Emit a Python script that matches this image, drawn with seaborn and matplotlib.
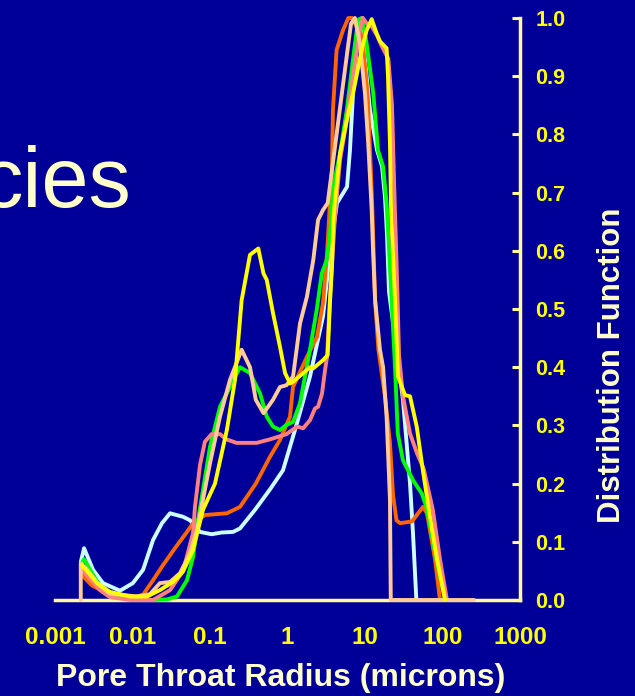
import numpy as np
import pandas as pd
import matplotlib
matplotlib.use("Agg")
import matplotlib.pyplot as plt
import seaborn as sns

# ---------------- data (x: pore throat radius in microns, y: distribution) --------
x_ticks = [0.001, 0.01, 0.1, 1, 10, 100, 1000]
x_tick_labels = ["0.001", "0.01", "0.1", "1", "10", "100", "1000"]
y_ticks = [0.0, 0.1, 0.2, 0.3, 0.4, 0.5, 0.6, 0.7, 0.8, 0.9, 1.0]
y_tick_labels = ["0.0", "0.1", "0.2", "0.3", "0.4", "0.5", "0.6", "0.7", "0.8", "0.9", "1.0"]

cyan_x = [0.00215, 0.00237, 0.00309, 0.00416, 0.0069, 0.0101, 0.0137, 0.0184, 0.024, 0.0305,
          0.0449, 0.0552, 0.0743, 0.105, 0.142, 0.198, 0.244, 0.381, 0.594, 0.875, 1.327, 1.95,
          2.87, 3.53, 4.35, 5.86, 6.4, 7.0, 7.88, 8.61, 9.14, 10.0, 11.6, 14.3, 16.6, 18.1, 19.2,
          20.4, 30.9, 38.1, 41.6, 46.0]
cyan_y = [0.065, 0.089, 0.052, 0.029, 0.016, 0.029, 0.052, 0.103, 0.132, 0.149,
          0.143, 0.137, 0.117, 0.113, 0.116, 0.117, 0.123, 0.155, 0.19, 0.223, 0.304, 0.384,
          0.487, 0.596, 0.682, 0.71, 0.773, 0.87, 0.956, 0.995, 1.0, 0.928, 0.842, 0.773, 0.745, 0.693, 0.63,
          0.53, 0.344, 0.2, 0.115, 0.0]

orange_x = [0.00215, 0.003, 0.005, 0.0093, 0.0137, 0.0184, 0.0248, 0.0353, 0.0505, 0.0604,
            0.0861, 0.1656, 0.244, 0.39, 0.594, 0.80, 1.077, 1.178, 1.786, 2.4, 2.87, 3.24,
            3.53, 3.75, 3.86, 4.3, 5.2, 6.1, 6.8, 9.14, 10.3, 10.9, 12.3, 13.5, 14.9, 18.1,
            21.0, 23.0, 25.5, 28.3, 40.4, 56.0, 63.1, 80.0, 92.9]
orange_y = [0.045, 0.025, 0.01, 0.003, 0.009, 0.034, 0.06, 0.089, 0.117, 0.132,
            0.146, 0.149, 0.16, 0.2, 0.246, 0.275, 0.315, 0.366, 0.418, 0.452, 0.51, 0.596,
            0.682, 0.739, 0.842, 0.945, 0.979, 1.0, 1.0, 0.97, 0.9, 0.86, 0.69, 0.515, 0.43, 0.35,
            0.27, 0.18, 0.137, 0.132, 0.135, 0.16, 0.149, 0.07, 0.0]

green_x = [0.00215, 0.00237, 0.00381, 0.00513, 0.0093, 0.0184, 0.0279, 0.0375, 0.0505, 0.0604,
           0.068, 0.1, 0.1345, 0.181, 0.244, 0.328, 0.442, 0.54, 0.65, 0.80, 0.97, 1.18, 1.45,
           1.95, 2.38, 2.77, 3.2, 3.53, 3.9, 4.76, 5.83, 7.0, 8.14, 9.14, 10.5, 12.8, 14.7, 17.1,
           19.0, 21.0, 24.4, 26.5, 30.9, 41.6, 54.0, 62.0, 84.0, 108.0]
green_y = [0.06, 0.07, 0.023, 0.009, 0.002, 0.0, 0.001, 0.006, 0.034, 0.074,
           0.126, 0.263, 0.332, 0.366, 0.40, 0.39, 0.355, 0.315, 0.298, 0.292, 0.301, 0.306, 0.338,
           0.43, 0.498, 0.561, 0.584, 0.624, 0.71, 0.767, 0.842, 0.928, 0.997, 1.0, 0.956, 0.87, 0.773, 0.745,
           0.682, 0.573, 0.40, 0.286, 0.24, 0.206, 0.183, 0.16, 0.069, 0.0]

salmon_x = [0.00223, 0.0038, 0.0051, 0.0093, 0.0184, 0.0305, 0.045, 0.0604, 0.064, 0.0743,
            0.086, 0.105, 0.1345, 0.163, 0.22, 0.40, 0.594, 0.97, 1.33, 1.59, 1.95, 2.26, 2.48,
            2.79, 3.05, 3.24, 3.53, 4.1, 4.76, 5.83, 7.0, 8.6, 9.4, 10.6, 12.3, 14.3, 16.0, 20.0,
            22.3, 23.7, 25.9, 27.5, 30.9, 35.9, 38.1, 46.9, 57.0, 75.0, 93.0, 114.0]
salmon_y = [0.052, 0.017, 0.005, 0.0, 0.0, 0.017, 0.05, 0.115, 0.16, 0.232,
            0.272, 0.285, 0.285, 0.276, 0.27, 0.27, 0.276, 0.285, 0.298, 0.295, 0.309, 0.329, 0.332,
            0.355, 0.395, 0.418, 0.52, 0.66, 0.756, 0.825, 0.9, 0.98, 1.0, 0.99, 0.985, 0.97, 0.955, 0.93,
            0.85, 0.72, 0.55, 0.42, 0.35, 0.304, 0.286, 0.252, 0.226, 0.155, 0.069, 0.0]

peach_x = [0.00215, 0.00215, 0.0026, 0.0035, 0.0051, 0.0114, 0.0168, 0.0226, 0.0305, 0.041,
           0.0552, 0.068, 0.1, 0.1345, 0.181, 0.256, 0.328, 0.39, 0.49, 0.65, 0.80, 0.97, 1.18,
           1.45, 1.78, 2.15, 2.48, 2.87, 3.3, 5.2, 6.1, 6.6, 7.4, 8.6, 10.0, 11.0, 12.2, 12.7,
           13.5, 15.6, 17.1, 19.0, 21.0, 21.5, 255.0]
peach_y = [0.0, 0.063, 0.052, 0.029, 0.011, 0.006, 0.01, 0.029, 0.031, 0.046,
           0.08, 0.12, 0.235, 0.315, 0.378, 0.43, 0.40, 0.344, 0.321, 0.344, 0.366, 0.369, 0.384,
           0.475, 0.521, 0.584, 0.653, 0.67, 0.682, 0.885, 0.956, 0.99, 1.0, 0.956, 0.87, 0.785, 0.67, 0.60,
           0.515, 0.43, 0.40, 0.315, 0.172, 0.0, 0.0]

yellow_x = [0.00223, 0.0035, 0.0051, 0.0093, 0.0154, 0.0226, 0.0333, 0.0449, 0.0604, 0.0812,
            0.116, 0.165, 0.21, 0.256, 0.328, 0.42, 0.49, 0.54, 0.65, 0.80, 0.93, 1.08, 1.18,
            1.6, 1.95, 2.15, 2.87, 3.3, 3.53, 3.75, 3.9, 4.1, 4.76, 5.83, 7.0, 8.9, 10.5, 12.2,
            14.1, 15.6, 19.0, 19.8, 21.0, 21.7, 24.4, 26.7, 32.8, 38.1, 46.5, 56.5, 69.0, 84.0,
            102.0, 108.0]
yellow_y = [0.06, 0.029, 0.014, 0.006, 0.006, 0.017, 0.031, 0.049, 0.086, 0.155,
            0.2, 0.292, 0.378, 0.515, 0.593, 0.604, 0.561, 0.55, 0.493, 0.435, 0.39, 0.372, 0.375,
            0.39, 0.40, 0.398, 0.412, 0.421, 0.51, 0.573, 0.65, 0.687, 0.767, 0.825, 0.87, 0.94, 0.979, 0.998,
            0.974, 0.96, 0.948, 0.9, 0.785, 0.67, 0.515, 0.384, 0.352, 0.35, 0.298, 0.218, 0.143, 0.074,
            0.017, 0.0]

series = [
    ("cyan", cyan_x, cyan_y, "#CCFFFF"),
    ("orange", orange_x, orange_y, "#FF6600"),
    ("green", green_x, green_y, "#00FF00"),
    ("salmon", salmon_x, salmon_y, "#FF8080"),
    ("peach", peach_x, peach_y, "#FFCC99"),
    ("yellow", yellow_x, yellow_y, "#FFFF00"),
]

# ---------------- styling ----------------
BG = "#000099"
AXIS = "#FFFF99"
TICKLAB = "#FFFF00"
LABEL = "#FFFFCC"

sns.set_style("white")
plt.rcParams["font.family"] = ["Liberation Sans", "DejaVu Sans"]

fig = plt.figure(figsize=(6.35, 6.96), dpi=100)
fig.patch.set_facecolor(BG)
ax = fig.add_axes([55 / 635, 96 / 696, 465 / 635, 582 / 696])
ax.set_facecolor(BG)

for name, xs, ys, col in series:
    df = pd.DataFrame({"x": xs, "y": ys})
    sns.lineplot(data=df, x="x", y="y", ax=ax, color=col, linewidth=2.8,
                 estimator=None, sort=False, clip_on=False, zorder=3)

ax.set_xscale("log")
ax.set_xlim(0.001, 1000)
ax.set_ylim(0, 1.0)
ax.set_xticks(x_ticks)
ax.set_xticklabels(x_tick_labels)
ax.xaxis.set_minor_locator(matplotlib.ticker.NullLocator())
ax.yaxis.tick_right()
ax.set_yticks(y_ticks)
ax.set_yticklabels(y_tick_labels)

for s in ["top", "left"]:
    ax.spines[s].set_visible(False)
for s in ["bottom", "right"]:
    ax.spines[s].set_visible(True)
    ax.spines[s].set_color(AXIS)
    ax.spines[s].set_linewidth(2.5)
    ax.spines[s].set_zorder(2)

ax.tick_params(axis="x", direction="in", length=7, width=2.2, color=AXIS,
               labelsize=17.5, labelcolor=TICKLAB, pad=19)
ax.tick_params(axis="y", direction="in", length=6, width=2.2, color=AXIS,
               labelsize=15.5, labelcolor=TICKLAB, pad=11, right=True, left=False,
               labelright=True, labelleft=False)
for lab in ax.get_xticklabels() + ax.get_yticklabels():
    lab.set_fontweight("bold")

ax.set_xlabel("Pore Throat Radius (microns)", fontsize=23, fontweight="bold", color=LABEL)
ax.xaxis.set_label_coords(0.486, -0.134)
ax.xaxis.label.set_va("center")
ax.yaxis.set_label_position("right")
ax.set_ylabel("Distribution Function", fontsize=22.5, fontweight="bold", color=LABEL,
              rotation=90)
ax.yaxis.set_label_coords(1.198, 0.404)
ax.yaxis.label.set_va("center")
ax.grid(False)

fig.text(131 / 635, 1 - 207 / 696, "cies", fontsize=61, color=LABEL,
         ha="right", va="baseline")

fig.savefig("out.png", dpi=100, facecolor=BG)
